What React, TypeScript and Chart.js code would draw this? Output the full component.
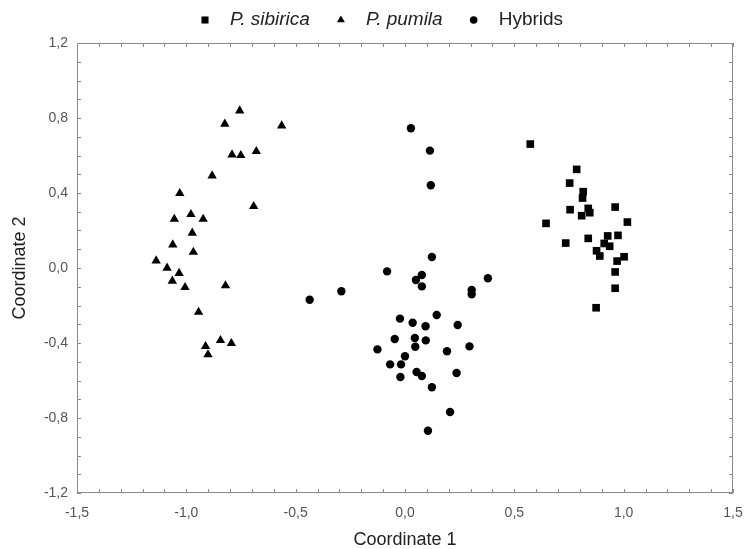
import React, { useEffect, useRef } from "react";
import { Chart, registerables } from "chart.js";

Chart.register(...registerables);

// P. sibirica (squares)
const sibiricaX = [0.573, 0.785, 0.753, 0.815, 0.812, 0.755, 0.838, 0.845, 0.808, 0.961, 0.645, 1.017, 0.735, 0.838, 0.927, 0.974, 0.911, 0.936, 0.876, 0.891, 1.002, 0.970, 0.961, 0.961, 0.874];
const sibiricaY = [0.661, 0.526, 0.453, 0.407, 0.373, 0.311, 0.318, 0.295, 0.279, 0.325, 0.238, 0.245, 0.133, 0.158, 0.171, 0.174, 0.131, 0.116, 0.092, 0.064, 0.060, 0.037, -0.021, -0.108, -0.212];

// P. pumila (triangles)
const pumilaX = [-0.756, -0.824, -0.564, -0.680, -0.791, -0.751, -0.882, -1.030, -0.692, -0.979, -1.055, -0.923, -0.973, -1.062, -0.968, -1.138, -1.088, -1.033, -1.064, -1.006, -0.821, -0.944, -0.844, -0.794, -0.912, -0.901];
const pumilaY = [0.839, 0.768, 0.759, 0.622, 0.604, 0.601, 0.492, 0.398, 0.329, 0.286, 0.261, 0.261, 0.187, 0.124, 0.085, 0.039, 0.000, -0.028, -0.069, -0.103, -0.094, -0.235, -0.386, -0.402, -0.418, -0.462];

// Hybrids (circles)
const hybridsX = [0.027, 0.114, 0.118, 0.123, -0.082, 0.077, 0.050, 0.077, 0.379, 0.305, 0.305, -0.291, -0.436, 0.145, -0.023, 0.035, 0.094, 0.241, -0.047, 0.045, 0.095, 0.047, 0.295, -0.126, 0.192, 0.000, -0.068, -0.018, -0.021, 0.053, 0.077, 0.236, 0.123, 0.206, 0.105];
const hybridsY = [0.745, 0.626, 0.441, 0.059, -0.018, -0.037, -0.064, -0.098, -0.055, -0.117, -0.140, -0.124, -0.169, -0.251, -0.270, -0.292, -0.311, -0.304, -0.379, -0.373, -0.386, -0.420, -0.418, -0.434, -0.444, -0.471, -0.514, -0.514, -0.581, -0.555, -0.576, -0.560, -0.636, -0.768, -0.868];

const seriesLabels = ["P. sibirica", "P. pumila", "Hybrids"];
const seriesItalic = [true, true, false];
const xTitle = "Coordinate 1";
const yTitle = "Coordinate 2";

const toPoints = (xs: number[], ys: number[]) => xs.map((x, i) => ({ x, y: ys[i] }));
const fmt = (v: number) => (Math.abs(v) < 1e-9 ? 0 : v).toFixed(1).replace(".", ",");

const FONT = "'Liberation Sans', Arial, sans-serif";

const boxPlugin = {
  id: "boxAndTicks",
  afterDraw(chart: any) {
    const { ctx, chartArea } = chart;
    const { left, right, top, bottom } = chartArea;
    ctx.save();
    ctx.strokeStyle = "#8a8a8a";
    ctx.lineWidth = 1;
    ctx.strokeRect(left + 0.5, top + 0.5, right - left - 1, bottom - top - 1);
    const tl = 4;
    ctx.beginPath();
    const xs = chart.scales.x;
    for (const t of xs.ticks) {
      const px = Math.round(xs.getPixelForValue(t.value)) + 0.5;
      ctx.moveTo(px, bottom);
      ctx.lineTo(px, bottom - tl);
      ctx.moveTo(px, top);
      ctx.lineTo(px, top + tl);
    }
    const ys = chart.scales.y;
    for (const t of ys.ticks) {
      const py = Math.round(ys.getPixelForValue(t.value)) + 0.5;
      ctx.moveTo(left, py);
      ctx.lineTo(left + tl, py);
      ctx.moveTo(right, py);
      ctx.lineTo(right - tl, py);
    }
    ctx.stroke();
    ctx.restore();
  },
};

const legendPlugin = {
  id: "customLegend",
  afterDraw(chart: any) {
    const { ctx } = chart;
    ctx.save();
    const y = 20;
    const fontSize = 19;
    const markerToText = 25;
    const textToMarker = 31;
    let mx = 205;
    chart.data.datasets.forEach((ds: any, i: number) => {
      ctx.fillStyle = "#000";
      const r = i === 0 ? 5 : i === 1 ? 4.6 : 3.8;
      ctx.beginPath();
      if (ds.pointStyle === "rect") {
        const s = r * Math.SQRT1_2;
        ctx.rect(mx - s, y - s, 2 * s, 2 * s);
      } else if (ds.pointStyle === "triangle") {
        ctx.moveTo(mx, y - r);
        ctx.lineTo(mx + r * 0.866, y + r / 2);
        ctx.lineTo(mx - r * 0.866, y + r / 2);
        ctx.closePath();
      } else {
        ctx.arc(mx, y, r, 0, Math.PI * 2);
      }
      ctx.fill();
      ctx.font = `${seriesItalic[i] ? "italic " : ""}${fontSize}px ${FONT}`;
      ctx.textBaseline = "middle";
      ctx.textAlign = "left";
      ctx.fillStyle = "#222";
      const w = ctx.measureText(ds.label).width;
      ctx.fillText(ds.label, mx + markerToText, y);
      mx = mx + markerToText + w + textToMarker;
    });
    ctx.restore();
  },
};

export default function App() {
  const ref = useRef<HTMLCanvasElement | null>(null);
  useEffect(() => {
    document.body.style.margin = "0";
    const canvas = ref.current;
    if (!canvas) return;
    const chart = new Chart(canvas, {
      type: "scatter",
      data: {
        datasets: [
          {
            label: seriesLabels[0],
            data: toPoints(sibiricaX, sibiricaY),
            pointStyle: "rect",
            pointRadius: 5.4,
            backgroundColor: "#000",
            borderColor: "#000",
            borderWidth: 0,
          },
          {
            label: seriesLabels[1],
            data: toPoints(pumilaX, pumilaY),
            pointStyle: "triangle",
            pointRadius: 5.4,
            backgroundColor: "#000",
            borderColor: "#000",
            borderWidth: 0,
          },
          {
            label: seriesLabels[2],
            data: toPoints(hybridsX, hybridsY),
            pointStyle: "circle",
            pointRadius: 4.2,
            backgroundColor: "#000",
            borderColor: "#000",
            borderWidth: 0,
          },
        ],
      },
      options: {
        responsive: false,
        animation: false,
        layout: { padding: { top: 43, right: 13, left: 0, bottom: 0 } },
        plugins: {
          legend: { display: false },
          tooltip: { enabled: false },
        },
        scales: {
          x: {
            type: "linear",
            min: -1.5,
            max: 1.5,
            grid: { display: false },
            border: { display: false },
            ticks: {
              stepSize: 0.1,
              autoSkip: false,
              maxRotation: 0,
              padding: 4,
              color: "#555",
              font: { family: FONT, size: 14 },
              callback: (v: any) => (Math.round(Number(v) * 10) % 5 === 0 ? fmt(Number(v)) : ""),
            },
            title: {
              display: true,
              text: xTitle,
              color: "#222",
              font: { family: FONT, size: 18 },
              padding: { top: 0, bottom: -2 },
            },
            afterFit: (s: any) => {
              s.height = 56;
              s.paddingLeft = 0;
              s.paddingRight = 0;
            },
          },
          y: {
            type: "linear",
            min: -1.2,
            max: 1.2,
            grid: { display: false },
            border: { display: false },
            ticks: {
              stepSize: 0.1,
              autoSkip: false,
              padding: 1,
              color: "#555",
              font: { family: FONT, size: 14 },
              callback: (v: any) => (Math.round(Number(v) * 10) % 4 === 0 ? fmt(Number(v)) : ""),
            },
            title: {
              display: true,
              text: yTitle,
              color: "#222",
              font: { family: FONT, size: 18 },
              padding: { top: 9, bottom: 0 },
            },
            afterFit: (s: any) => {
              s.width = 77;
              s.paddingTop = 0;
              s.paddingBottom = 0;
            },
          },
        },
      },
      plugins: [boxPlugin, legendPlugin],
    });
    return () => chart.destroy();
  }, []);
  return (
    <div style={{ width: 746, height: 549 }}>
      <canvas ref={ref} width={746} height={549} style={{ display: "block" }} />
    </div>
  );
}
